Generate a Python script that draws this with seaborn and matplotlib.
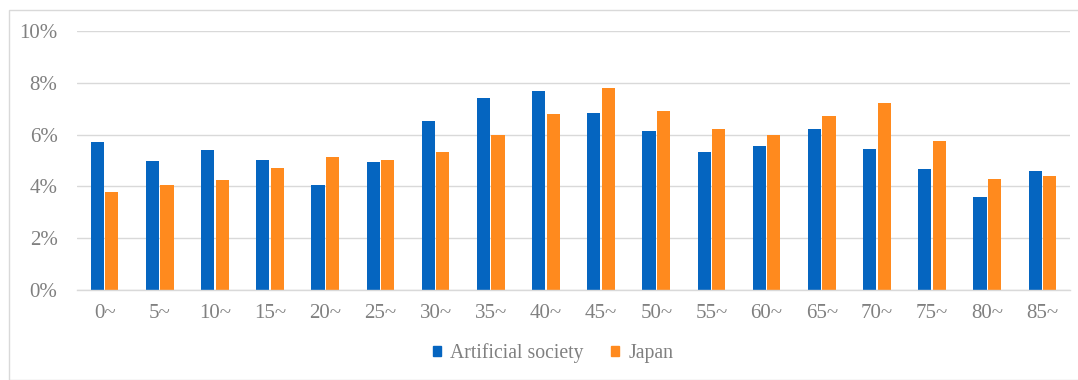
import matplotlib
matplotlib.use("Agg")
import matplotlib.pyplot as plt
import matplotlib.patches as mpatches
import seaborn as sns
import pandas as pd

# Age groups (5-year bands) and share of population in each
age_groups = ["0~", "5~", "10~", "15~", "20~", "25~", "30~", "35~", "40~",
              "45~", "50~", "55~", "60~", "65~", "70~", "75~", "80~", "85~"]
artificial_society = [5.70, 4.98, 5.41, 5.01, 4.05, 4.93, 6.54, 7.41, 7.70,
                      6.85, 6.13, 5.33, 5.57, 6.22, 5.46, 4.68, 3.58, 4.61]
japan = [3.78, 4.05, 4.25, 4.70, 5.14, 5.01, 5.33, 5.98, 6.81,
         7.81, 6.90, 6.22, 5.98, 6.73, 7.22, 5.74, 4.29, 4.41]
series_names = ["Artificial society", "Japan"]
y_ticks = [0, 2, 4, 6, 8, 10]

df = pd.DataFrame({
    "age": age_groups * 2,
    "share": artificial_society + japan,
    "series": [series_names[0]] * len(age_groups) + [series_names[1]] * len(age_groups),
})

sns.set_theme(style="white")
plt.rcParams["font.family"] = ["Liberation Serif", "DejaVu Serif"]

text_color = "#808080"
grid_color = "#d9d9d9"
palette = {series_names[0]: "#0565C0", series_names[1]: "#FF8A1E"}

fig = plt.figure(figsize=(10.78, 3.80), dpi=100)
ax = fig.add_axes([77 / 1078, 1 - 290 / 380, (1070 - 77) / 1078, (290 - 31) / 380])

sns.barplot(data=df, x="age", y="share", hue="series", hue_order=series_names,
            order=age_groups, palette=palette, width=0.53, gap=0.1,
            saturation=1.0, linewidth=0, ax=ax, legend=False)

ax.set_xlim(-0.5, len(age_groups) - 0.5)
ax.set_ylim(0, 10)
ax.set_yticks(y_ticks)
ax.set_yticklabels([f"{t}%" for t in y_ticks])
ax.yaxis.grid(True, color=grid_color, linewidth=1.0)
ax.set_axisbelow(True)
for side in ["top", "right", "left"]:
    ax.spines[side].set_visible(False)
ax.spines["bottom"].set_color(grid_color)
ax.spines["bottom"].set_linewidth(1.0)
ax.set_xlabel("")
ax.set_ylabel("")
ax.tick_params(axis="both", length=0, labelsize=15, colors=text_color)
ax.tick_params(axis="y", pad=14)
ax.tick_params(axis="x", pad=10)

# Legend below the plot
handles = [mpatches.Patch(color=palette[s], label=s) for s in series_names]
fig.legend(handles=handles, loc="center", bbox_to_anchor=(553 / 1078, 1 - 353 / 380),
           ncol=2, frameon=False, fontsize=14.2, labelcolor=text_color,
           handlelength=0.42, handleheight=0.42, handletextpad=0.45, columnspacing=1.4)

# Thin frame around the chart area
frame = mpatches.Rectangle((9 / 1078, 0.0), 1.2, 1 - 10 / 380, transform=fig.transFigure,
                           fill=False, edgecolor="#d9d9d9", linewidth=1.0)
fig.patches.append(frame)

fig.savefig("out.png", dpi=100, facecolor="white")
